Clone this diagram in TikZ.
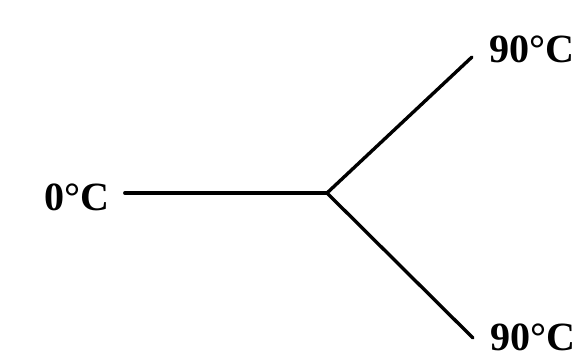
\documentclass[tikz,border=0pt]{standalone}
\usepackage{fontspec}
\setmainfont{Liberation Serif}
\usetikzlibrary{positioning}
\begin{document}
\begin{tikzpicture}[
        x=0.025cm, y=-0.025cm,
        templabel/.style={inner sep=0pt, font=\fontsize{28.5}{32}\selectfont\bfseries},
        pipe/.style={line width=2.4pt, line cap=round}
    ]
        \useasboundingbox (0,0) rectangle (580,358);
        \node[templabel] (cold) at (77,197) {0°C};
        \node[templabel] (hotup) at (532,49) {90°C};
        \node[templabel] (hotdown) at (533,337) {90°C};

        \coordinate (split) at (327,193);
        \coordinate (upend) at (472,57);
        \coordinate (downend) at (473,338);

        \draw[pipe] (cold.east |- split) ++(15,0) -- (split);
        \draw[pipe] (split) -- (upend);
        \draw[pipe] (split) -- (downend);
    \end{tikzpicture}
\end{document}
